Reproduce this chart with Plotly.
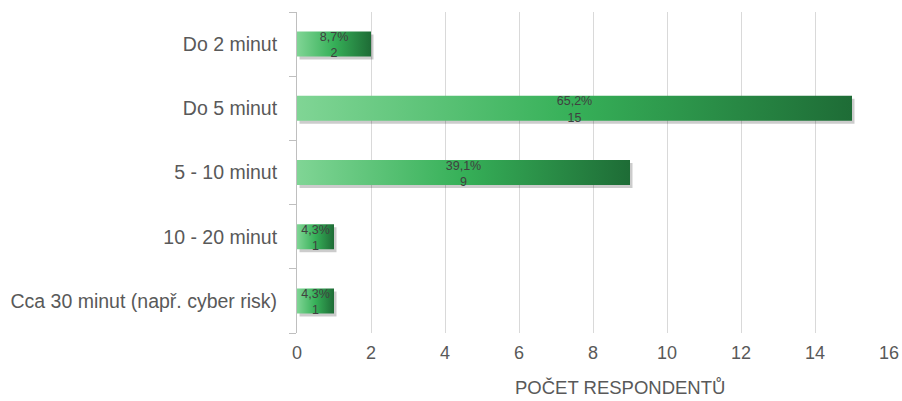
import plotly.graph_objects as go

categories = ["Do 2 minut", "Do 5 minut", "5 - 10 minut", "10 - 20 minut", "Cca 30 minut (např. cyber risk)"]
counts = [2, 15, 9, 1, 1]
percents = ["8,7%", "65,2%", "39,1%", "4,3%", "4,3%"]
x_ticks = [0, 2, 4, 6, 8, 10, 12, 14, 16]
x_title = "POČET RESPONDENTŮ"

W, H = 902, 401
L, R, T, B = 297, 13, 12, 68
x_range = [0, 16]
y_range = [4.5, -0.5]
px_per_x = (W - L - R) / (x_range[1] - x_range[0])
px_per_y = (H - T - B) / (y_range[0] - y_range[1])

half = 0.195
grad = [[0, "#80d595"], [0.5, "#36b058"], [1, "#1e6c36"]]
dx = 2.5 / px_per_x
dy = 3.0 / px_per_y
text_dy = 2.0 / px_per_y

fig = go.Figure()

# shadows
for i, v in enumerate(counts):
    fig.add_trace(go.Scatter(
        x=[dx, v + dx, v + dx, dx, dx],
        y=[i - half + dy, i - half + dy, i + half + dy, i + half + dy, i - half + dy],
        fill="toself", mode="lines", line=dict(width=0),
        fillcolor="rgba(0,0,0,0.2)", hoverinfo="skip", showlegend=False))

# bars with gradient
for i, v in enumerate(counts):
    fig.add_trace(go.Scatter(
        x=[0, v, v, 0, 0],
        y=[i - half, i - half, i + half, i + half, i - half],
        fill="toself", mode="lines", line=dict(width=0),
        fillgradient=dict(type="horizontal", colorscale=grad),
        name=categories[i], hoverinfo="name", showlegend=False))

# labels
fig.add_trace(go.Scatter(
    x=[v / 2 for v in counts],
    y=[i + text_dy for i in range(len(counts))],
    mode="text",
    text=[f"{p}<br>{c}" for p, c in zip(percents, counts)],
    textposition="middle center",
    textfont=dict(family="Liberation Sans, Arial", size=12.5, color="#404040"),
    hoverinfo="skip", showlegend=False))

fig.update_layout(
    width=W, height=H,
    margin=dict(l=L, r=R, t=T, b=B, pad=0),
    plot_bgcolor="white", paper_bgcolor="white",
    font=dict(family="Liberation Sans, Arial", color="#595959"),
    xaxis=dict(range=x_range, tickvals=x_ticks, ticktext=[str(t) for t in x_ticks],
               showgrid=True, gridcolor="#d9d9d9", gridwidth=1, automargin=False,
               zeroline=False, showline=False, ticks="",
               tickfont=dict(size=18, color="#595959"), ticklabelstandoff=7),
    yaxis=dict(range=y_range, tickvals=list(range(len(categories))), ticktext=categories,
               showgrid=False, zeroline=False, showline=True, linecolor="#bfbfbf", linewidth=1,
               automargin=False,
               ticks="", tickfont=dict(size=19.5, color="#595959"), ticklabelstandoff=15,
               minor=dict(tickvals=[k - 0.5 for k in range(len(categories) + 1)],
                          ticks="outside", ticklen=7, tickcolor="#bfbfbf", tickwidth=1)),
    annotations=[dict(text=x_title, xref="paper", yref="paper",
                      x=(620 - L) / (W - L - R), y=-(387 - (H - B)) / (H - T - B),
                      showarrow=False, xanchor="center", yanchor="middle",
                      font=dict(size=18.5, color="#595959"))],
)

fig.write_html("out.html")
